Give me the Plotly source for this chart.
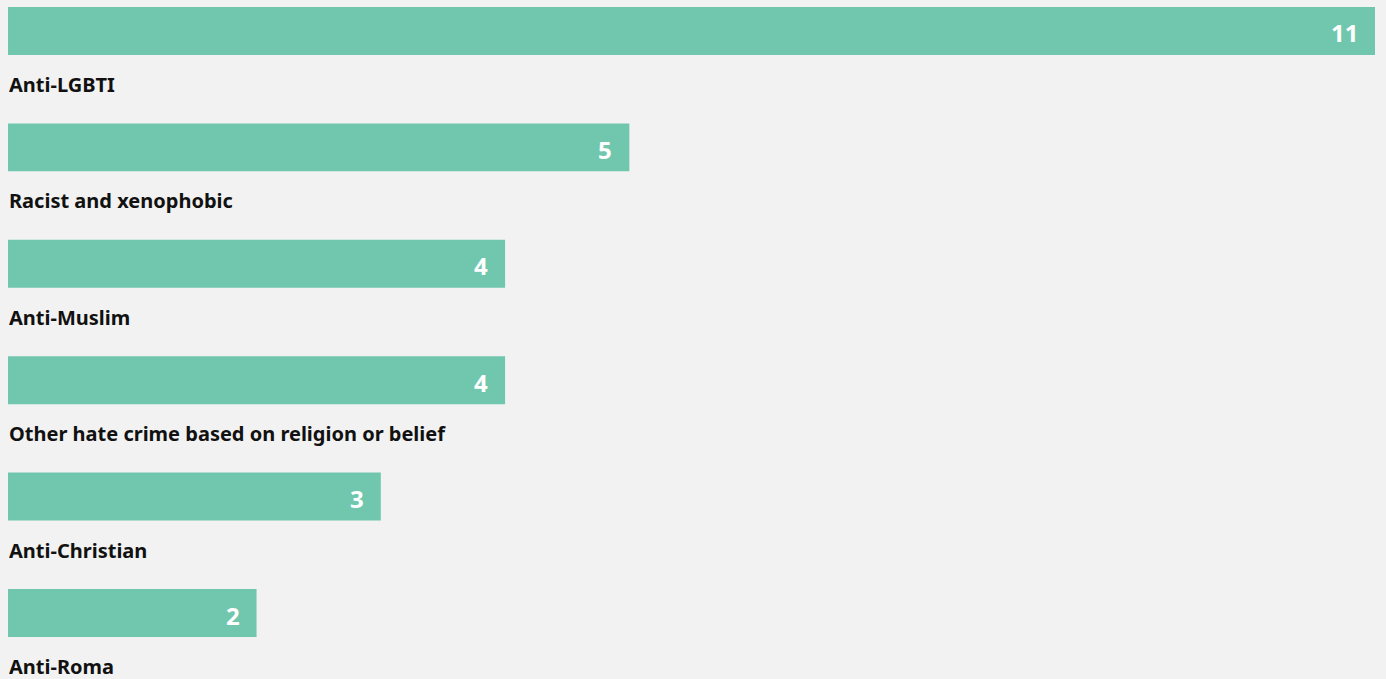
import plotly.graph_objects as go

categories = ["Anti-LGBTI", "Racist and xenophobic", "Anti-Muslim",
              "Other hate crime based on religion or belief", "Anti-Christian", "Anti-Roma"]
values = [11, 5, 4, 4, 3, 2]

positions = list(range(len(categories)))
BAR_COLOR = "#71c7ae"
BG = "#f2f2f2"

fig = go.Figure()
fig.add_trace(go.Bar(
    x=values, y=positions, orientation="h",
    marker=dict(color=BAR_COLOR, line=dict(width=0)),
    width=0.412, hoverinfo="skip",
))

annotations = []
for p, c, v in zip(positions, categories, values):
    annotations.append(dict(
        x=0, y=p + 0.455, xref="x", yref="y", text=f"<b>{c}</b>",
        showarrow=False, xanchor="left", yanchor="middle", xshift=-1,
        height=26, valign="middle",
        font=dict(family="Noto Sans", size=20, color="#111111"),
    ))
    annotations.append(dict(
        x=v, y=p, xref="x", yref="y", text=f"<b>{v}</b>",
        showarrow=False, xanchor="right", yanchor="middle", xshift=-15, yshift=-2,
        font=dict(family="Noto Sans", size=24, color="#ffffff"),
    ))

fig.update_layout(
    width=1386, height=679,
    margin=dict(l=8, r=11, t=0, b=0),
    paper_bgcolor=BG, plot_bgcolor=BG,
    showlegend=False,
    xaxis=dict(range=[0, 11], visible=False, fixedrange=True),
    yaxis=dict(range=[5.567, -0.266], visible=False, fixedrange=True),
    annotations=annotations,
)

fig.write_html(
    "out.html",
    config={"displayModeBar": False, "responsive": False},
    post_script="document.body.style.margin='0';document.body.style.overflow='hidden';",
)
